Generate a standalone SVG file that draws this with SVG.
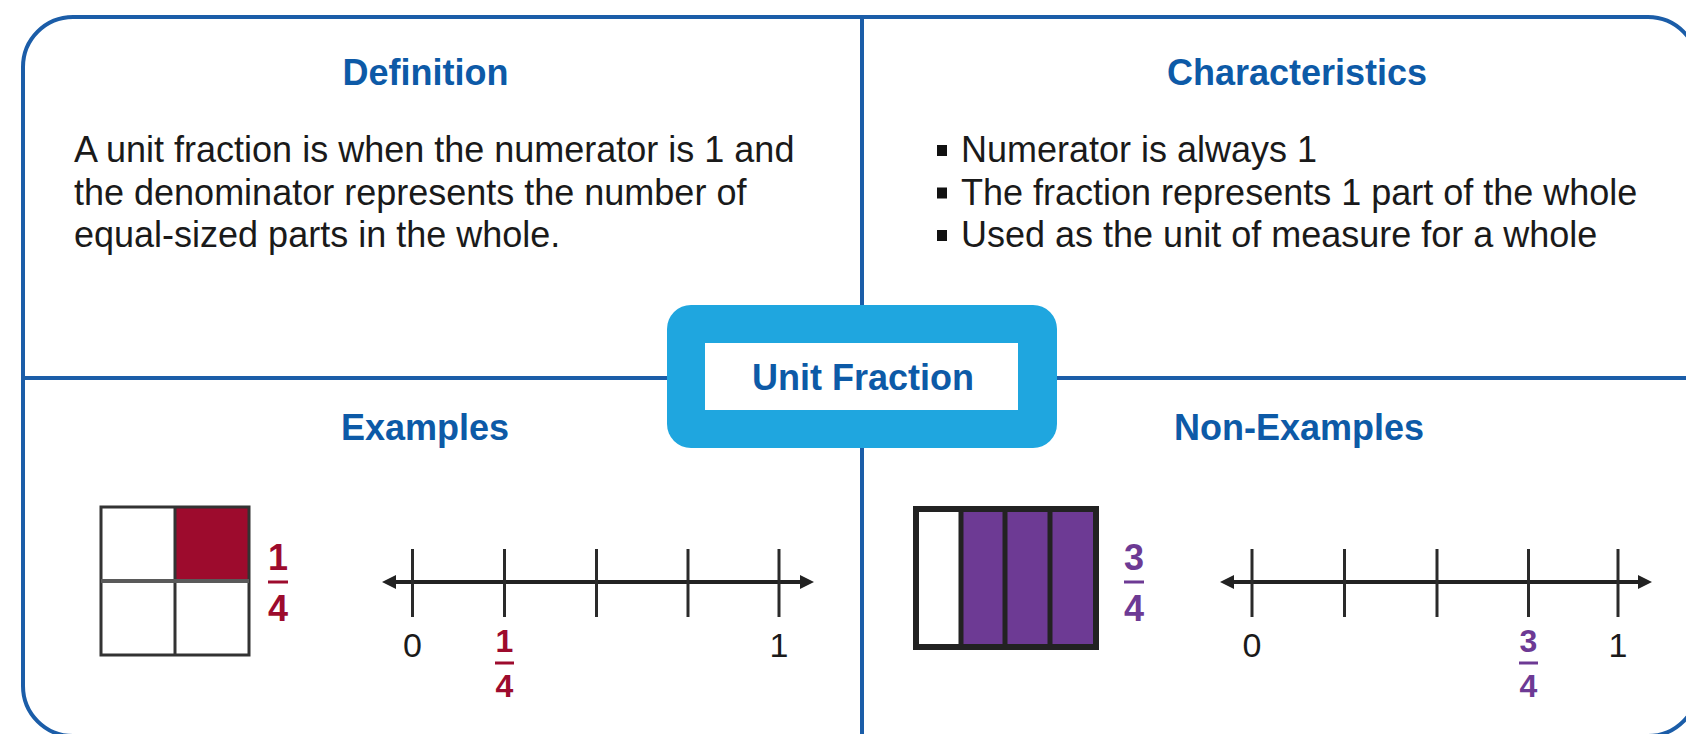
<svg xmlns="http://www.w3.org/2000/svg" width="1686" height="734" viewBox="0 0 1686 734">
<style>
.frame{fill:none;stroke:#1b5da8;stroke-width:4}
.div{stroke:#1b5da8;stroke-width:4}
.head{font-family:"Liberation Sans",Arial,sans-serif;font-weight:bold;font-size:36px;fill:#0d5aa7;text-anchor:middle}
.body{font-family:"Liberation Sans",Arial,sans-serif;font-size:36px;fill:#1a1a1a}
.num{font-family:"Liberation Sans",Arial,sans-serif;font-size:34px;fill:#1a1a1a;text-anchor:middle}
.fr{font-family:"Liberation Sans",Arial,sans-serif;font-weight:bold;text-anchor:middle}
.red{fill:#9d0b2d}
.pur{fill:#6d3a94}
.grid{fill:none;stroke:#333;stroke-width:3}
.nl{stroke:#222;stroke-width:4;marker-start:url(#ah);marker-end:url(#ah)}
.tick{stroke:#2a2a2a;stroke-width:3}
.bul{fill:#111}
</style>
<defs>
<marker id="ah" markerUnits="userSpaceOnUse" markerWidth="16" markerHeight="16" viewBox="0 -8 16 16" refX="8" refY="0" orient="auto-start-reverse">
<path d="M0,-7 L14,0 L0,7 Z" fill="#222"/>
</marker>
</defs>
<rect width="1686" height="734" fill="#fff"/>
<g id="frame">
<rect class="frame" x="23" y="17" width="1675" height="719" rx="50" ry="50"/>
</g>
<g id="connectors">
<line class="div" x1="862" y1="17" x2="862" y2="736"/>
<line class="div" x1="23" y1="378" x2="1698" y2="378"/>
</g>
<g id="definition">
<text class="head" x="425.5" y="85">Definition</text>
<text class="body" x="74" y="162">A unit fraction is when the numerator is 1 and</text>
<text class="body" x="74" y="204.5">the denominator represents the number of</text>
<text class="body" x="74" y="247">equal-sized parts in the whole.</text>
</g>
<g id="characteristics">
<text class="head" x="1297" y="85">Characteristics</text>
<rect class="bul" x="937" y="145" width="10" height="11"/>
<rect class="bul" x="937" y="187.5" width="10" height="11"/>
<rect class="bul" x="937" y="230" width="10" height="11"/>
<text class="body" x="961" y="162">Numerator is always 1</text>
<text class="body" x="961" y="204.5">The fraction represents 1 part of the whole</text>
<text class="body" x="961" y="247">Used as the unit of measure for a whole</text>
</g>
<g id="examples">
<text class="head" x="425" y="440">Examples</text>
<rect x="175" y="507" width="74" height="74" fill="#9d0b2d"/>
<rect class="grid" x="101" y="507" width="148" height="148"/>
<line class="grid" x1="175" y1="507" x2="175" y2="655"/>
<line x1="101" y1="581" x2="249" y2="581" stroke="#5a5a5a" stroke-width="4"/>
<text class="fr red" x="278" y="570" font-size="36">1</text>
<line x1="268" y1="582" x2="288" y2="582" stroke="#9d0b2d" stroke-width="3"/>
<text class="fr red" x="278" y="621" font-size="36">4</text>
<line class="nl" x1="388" y1="582" x2="808" y2="582"/>
<line class="tick" x1="412.5" y1="549" x2="412.5" y2="617"/>
<line class="tick" x1="504.5" y1="549" x2="504.5" y2="617"/>
<line class="tick" x1="596.5" y1="549" x2="596.5" y2="617"/>
<line class="tick" x1="688" y1="549" x2="688" y2="617"/>
<line class="tick" x1="779" y1="549" x2="779" y2="617"/>
<text class="num" x="412.5" y="657">0</text>
<text class="num" x="779" y="657">1</text>
<text class="fr red" x="504.5" y="652" font-size="32">1</text>
<line x1="495" y1="663" x2="514" y2="663" stroke="#9d0b2d" stroke-width="3"/>
<text class="fr red" x="504.5" y="697" font-size="32">4</text>
</g>
<g id="non-examples">
<text class="head" x="1299" y="440">Non-Examples</text>
<rect x="961" y="509" width="44" height="138" fill="#6d3a94"/>
<rect x="1005" y="509" width="45" height="138" fill="#6d3a94"/>
<rect x="1050" y="509" width="46" height="138" fill="#6d3a94"/>
<rect x="916" y="509" width="180" height="138" fill="none" stroke="#222" stroke-width="6"/>
<line x1="961" y1="509" x2="961" y2="647" stroke="#222" stroke-width="5"/>
<line x1="1005" y1="509" x2="1005" y2="647" stroke="#222" stroke-width="5"/>
<line x1="1050" y1="509" x2="1050" y2="647" stroke="#222" stroke-width="5"/>
<text class="fr pur" x="1134" y="570" font-size="36">3</text>
<line x1="1124" y1="582" x2="1144" y2="582" stroke="#6d3a94" stroke-width="3"/>
<text class="fr pur" x="1134" y="621" font-size="36">4</text>
<line class="nl" x1="1226" y1="582" x2="1646" y2="582"/>
<line class="tick" x1="1252" y1="549" x2="1252" y2="617"/>
<line class="tick" x1="1344.5" y1="549" x2="1344.5" y2="617"/>
<line class="tick" x1="1437" y1="549" x2="1437" y2="617"/>
<line class="tick" x1="1528.5" y1="549" x2="1528.5" y2="617"/>
<line class="tick" x1="1618" y1="549" x2="1618" y2="617"/>
<text class="num" x="1252" y="657">0</text>
<text class="num" x="1618" y="657">1</text>
<text class="fr pur" x="1528.5" y="652" font-size="32">3</text>
<line x1="1519" y1="663" x2="1538" y2="663" stroke="#6d3a94" stroke-width="3"/>
<text class="fr pur" x="1528.5" y="697" font-size="32">4</text>
</g>
<g id="center">
<rect x="667" y="305" width="390" height="143" rx="24" ry="24" fill="#1fa6df"/>
<rect x="705" y="343" width="313" height="67" fill="#fff"/>
<text class="head" x="863" y="390">Unit Fraction</text>
</g>
</svg>
